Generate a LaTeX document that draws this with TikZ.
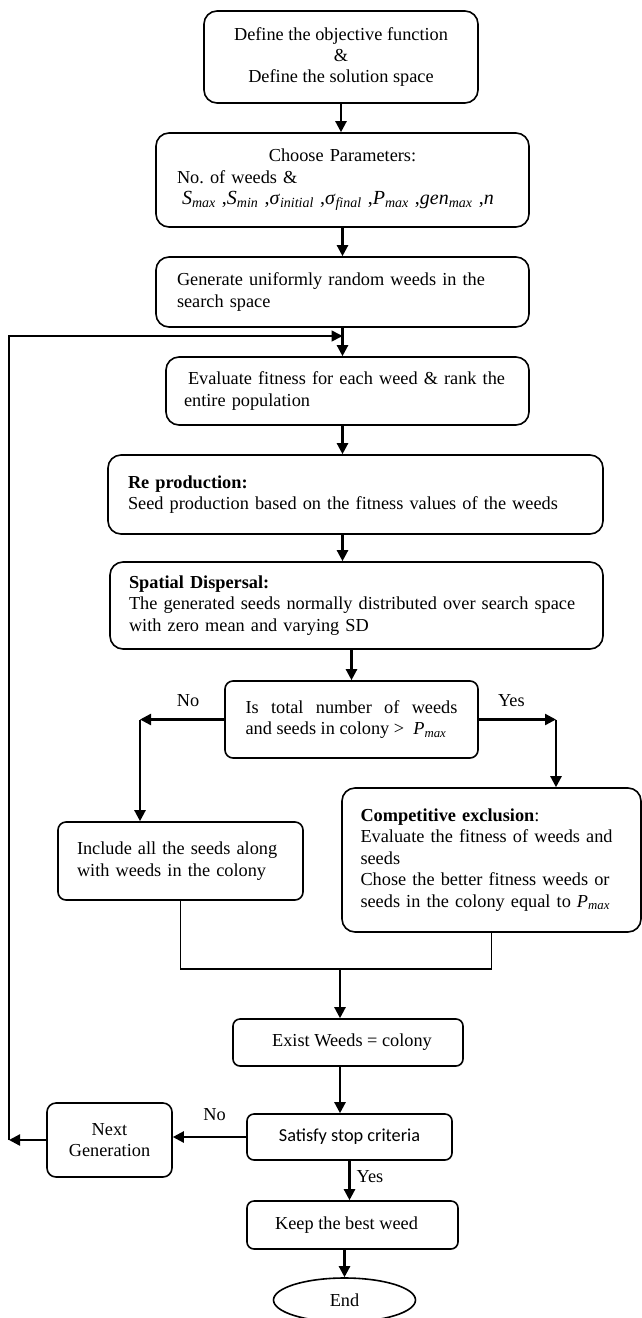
\documentclass[tikz,border=0pt]{standalone}
\usepackage{fontspec}
\setmainfont{Liberation Serif}
\newfontfamily\calib{Carlito}
\newcommand{\vsub}[2]{\textit{#1}\textsubscript{\textit{#2}}}
\usepackage{tikz}
\usetikzlibrary{arrows.meta}
\usetikzlibrary{shapes.geometric}

\begin{document}
\begin{tikzpicture}[x=1pt,y=-1pt,font=\fontsize{18.3}{21.5}\selectfont]
	\useasboundingbox (0,0) rectangle (642,1318);
	\begin{scope}[every node/.style={rectangle,rounded corners=13pt,draw,line width=1.6pt,inner sep=0pt}]
		\node[minimum width=274pt,minimum height=92pt,align=center] (1) at (341,57) {Define the objective function\\\&\\Define the solution space};
		\node[minimum width=373pt,minimum height=94pt,text width=331pt,align=left] (2) at (342.5,180) {\makebox[331pt]{Choose Parameters:}\\No.\ of weeds \&\\\hspace*{5pt}{\fontsize{20}{21.5}\selectfont\vsub{S}{max} ,\vsub{S}{min} ,\vsub{σ}{initial} ,\vsub{σ}{final} ,\vsub{P}{max} ,\vsub{gen}{max} ,\textit{n}}};
		\node[minimum width=373pt,minimum height=70pt,text width=331pt,align=left] (3) at (342.5,292) {Generate uniformly random weeds in the\\search space};
		\node[minimum width=363pt,minimum height=68pt,text width=327pt,align=left] (4) at (347.5,391) {\hspace*{4pt}Evaluate fitness for each weed \& rank the\\entire population};
		\node[minimum width=495pt,minimum height=79pt,text width=455pt,align=left] (5) at (355.5,494.5) {\textbf{Re production:}\\Seed production based on the fitness values of the weeds};
		\node[minimum width=493pt,minimum height=87pt,text width=455pt,align=left] (6) at (356.5,605.5) {\textbf{Spatial Dispersal:}\\The generated seeds normally distributed over search space\\with zero mean and varying SD};
		\node[rounded corners=8pt,minimum width=253pt,minimum height=77pt,text width=212pt,align=justify] (7) at (351.5,719.5) {Is total number of weeds\linebreak and seeds in colony > \ \vsub{P}{max}};
		\node[rounded corners=8pt,minimum width=245pt,minimum height=78pt,text width=207pt,align=left] (8) at (180.5,861) {Include all the seeds along\\with weeds in the colony};
		\node[minimum width=299pt,minimum height=144pt,text width=262pt,align=left] (9) at (491.5,860) {\textbf{Competitive exclusion}:\\Evaluate the fitness of weeds and\\seeds\\Chose the better fitness weeds or\\seeds in the colony equal to \vsub{P}{max}};
		\node[rounded corners=7pt,minimum width=230pt,minimum height=47pt] (10) at (348,1042.5) {\hspace*{8pt}Exist Weeds = colony};
		\node[rounded corners=7pt,minimum width=205pt,minimum height=46pt] (11) at (349.5,1137) {\calib Satisfy stop criteria};
		\node[rounded corners=7pt,minimum width=211pt,minimum height=48pt] (12) at (352.5,1225) {Keep the best weed\hspace*{12pt}};
		\node[ellipse,minimum width=142pt,minimum height=44pt] (13) at (344.5,1300) {End};
		\node[rounded corners=9pt,minimum width=125pt,minimum height=74pt,align=center] (14) at (109.5,1140) {Next\\Generation};
	\end{scope}

	\coordinate (no) at (140,719.5);
	\coordinate (yes) at (556,719.5);
	\coordinate (join) at (340,969);
	\coordinate (back) at (9,336);

	\begin{scope}[>={Triangle[length=11pt,width=11pt]},
	              every node/.style={inner sep=2pt},
	              every edge/.style={draw=black,line width=2.3pt,->}]
		\path (1.south) edge (1.south |- 2.north);
		\path (2.south) edge (2.south |- 3.north);
		\path (3.south) edge (3.south |- 4.north);
		\path (3.south |- 4.south) edge (3.south |- 5.north);
		\path (3.south |- 5.south) edge (3.south |- 6.north);
		\path (6.south -| 7.north) edge (7.north);
		\path (7.west) edge node[above=10pt,xshift=6pt] {No} (no);
		\path (no) edge (no |- 8.north);
		\path (7.east) edge node[above=10pt,xshift=-6pt] {Yes} (yes);
		\path (yes) edge (yes |- 9.north);
		\draw[line width=1.3pt] (8.south) |- (join) -| (9.south);
		\path (join) edge (join |- 10.north);
		\path (join |- 10.south) edge (join |- 11.north);
		\path (11.south) edge node[right=4pt,yshift=4pt] {Yes} (11.south |- 12.north);
		\path (11.west) edge node[above=13pt,xshift=5pt] {No} (11.west -| 14.east);
		\path (14.west) edge (14.west -| back);
		\draw[->,line width=1.7pt] (14.west -| back) -- (back) -- (3.south |- back);
		\path (12.south -| 13.north) edge (13.north);
	\end{scope}
\end{tikzpicture}
\end{document}
